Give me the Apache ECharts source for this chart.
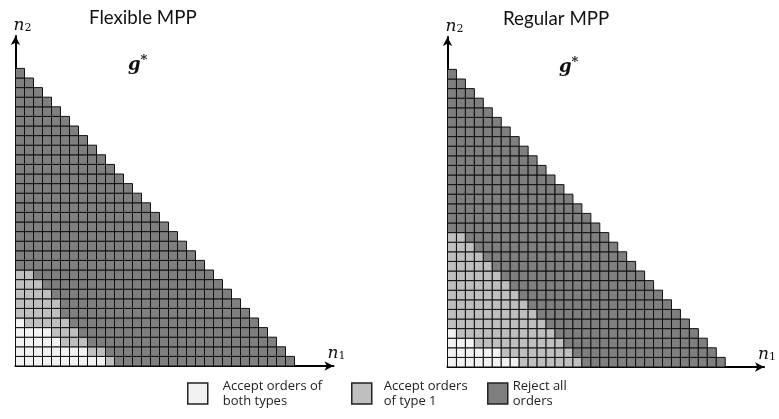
<!DOCTYPE html>
<html>
<head>
<meta charset="utf-8">
<script src="https://cdn.jsdelivr.net/npm/echarts@6/dist/echarts.min.js"></script>
<style>
  html, body { margin: 0; padding: 0; background: #fff; }
  #chart { width: 779px; height: 419px; }
</style>
</head>
<body>
<div id="chart"></div>
<script>
// State space: n1 + n2 <= N
const N = 30;

// Policy categories and their fills
const categories = ['Accept orders of\nboth types', 'Accept orders\nof type 1', 'Reject all\norders'];
const fills = ['#f2f2f2', '#bfbfbf', '#7f7f7f'];

// Panel titles
const panelTitles = ['Flexible MPP', 'Regular MPP'];

// For each n2 (index), first n1 that is no longer "accept both types"
const flexBothEnd = [10, 8, 5, 4, 1];
// For each n2 (index), first n1 that is "reject all orders"
const flexType1End = [11, 10, 8, 7, 6, 5, 5, 4, 3, 2];

const regBothEnd = [8, 6, 3, 1];
const regType1End = [15, 14, 13, 12, 11, 10, 9, 8, 7, 6, 5, 4, 3, 2];

// Build the cell lists per category for one policy
function buildCells(bothEnd, type1End) {
  const out = [[], [], []];
  for (let n2 = 0; n2 <= N; n2++) {
    const b = bothEnd[n2] || 0;
    const t = type1End[n2] || 0;
    for (let n1 = 0; n1 <= N - n2; n1++) {
      const c = n1 < b ? 0 : (n1 < t ? 1 : 2);
      out[c].push([n1, n2]);
    }
  }
  return out;
}

const panels = [
  buildCells(flexBothEnd, flexType1End),
  buildCells(regBothEnd, regType1End)
];

function renderCell(params, api) {
  const n1 = api.value(0), n2 = api.value(1);
  const a = api.coord([n1, n2 + 1]);
  const b = api.coord([n1 + 1, n2]);
  return {
    type: 'rect',
    shape: { x: a[0], y: a[1], width: b[0] - a[0], height: b[1] - a[1] },
    style: { fill: api.visual('color'), stroke: '#111', lineWidth: 1 }
  };
}

const cellW = 9, cellH = 9.6;
const gridDefs = [
  { left: 15.5, top: 36, width: 318, height: 330 },
  { left: 447.5, top: 37, width: 318, height: 330 }
];

const mathRich = {
  n: { fontFamily: 'DejaVu Serif', fontStyle: 'italic', fontSize: 17, color: '#111' },
  s: { fontFamily: 'DejaVu Serif', fontSize: 11, color: '#111', verticalAlign: 'bottom', padding: [4, 0, 0, 0] }
};

const xAxes = gridDefs.map((g, i) => ({
  type: 'value', gridIndex: i, min: 0, max: g.width / cellW,
  axisLine: { show: true, onZero: false, symbol: ['none', 'arrow'], symbolSize: [7, 9],
    lineStyle: { color: '#000', width: 2 } },
  axisTick: { show: false }, axisLabel: { show: false }, splitLine: { show: false },
  name: '{n|n}{s|1}', nameLocation: 'end', nameGap: -6,
  nameTextStyle: { verticalAlign: 'bottom', padding: [0, 0, 4, 0], rich: mathRich }
}));

const yAxes = gridDefs.map((g, i) => ({
  type: 'value', gridIndex: i, min: 0, max: g.height / cellH,
  axisLine: { show: true, onZero: false, symbol: ['none', 'arrow'], symbolSize: [7, 9],
    lineStyle: { color: '#000', width: 2 } },
  axisTick: { show: false }, axisLabel: { show: false }, splitLine: { show: false },
  name: '{n|n}{s|2}', nameLocation: 'end', nameGap: 2,
  nameTextStyle: { align: 'left', padding: [0, 0, 0, -2], rich: mathRich }
}));

const series = [];
panels.forEach((cells, p) => {
  cells.forEach((data, c) => {
    series.push({
      type: 'custom', name: categories[c], xAxisIndex: p, yAxisIndex: p,
      itemStyle: { color: fills[c] },
      renderItem: renderCell, data: data, silent: true
    });
  });
});

const legendPos = [
  { left: 187, top: 375.5, pad: [6, 0, 0, 10] },
  { left: 351, top: 375.5, pad: [6, 0, 0, 7] },
  { left: 487, top: 372.5, pad: [0, 0, 12, 0] }
];
const legends = categories.map((name, c) => ({
  data: [name], left: legendPos[c].left, top: legendPos[c].top, padding: 0,
  orient: 'horizontal', icon: 'rect', itemWidth: 20, itemHeight: 21, selectedMode: false,
  itemStyle: { borderColor: '#222', borderWidth: 1.5 },
  textStyle: { fontFamily: 'Open Sans', fontSize: 13, lineHeight: 15, color: '#222', padding: legendPos[c].pad }
}));

const titleFont = { fontFamily: 'Lato', fontSize: 18.7, fontWeight: 'normal', color: '#111' };
const gStar = {
  text: '{g|g}{s|*}', padding: 0,
  textStyle: { rich: {
    g: { fontFamily: 'DejaVu Serif', fontStyle: 'italic', fontSize: 18, color: '#111' },
    s: { fontFamily: 'DejaVu Serif', fontSize: 13, color: '#111', padding: [0, 0, 10, 0] }
  } }
};

const option = {
  animation: false,
  backgroundColor: '#fff',
  title: [
    { text: panelTitles[0], left: 89, top: 8, padding: 0, textStyle: titleFont },
    { text: panelTitles[1], left: 503, top: 9, padding: 0, textStyle: titleFont },
    Object.assign({ left: 128, top: 54 }, gStar),
    Object.assign({ left: 559, top: 56 }, gStar)
  ],
  grid: gridDefs,
  xAxis: xAxes,
  yAxis: yAxes,
  legend: legends,
  series: series
};

echarts.init(document.getElementById('chart')).setOption(option);
</script>
</body>
</html>
